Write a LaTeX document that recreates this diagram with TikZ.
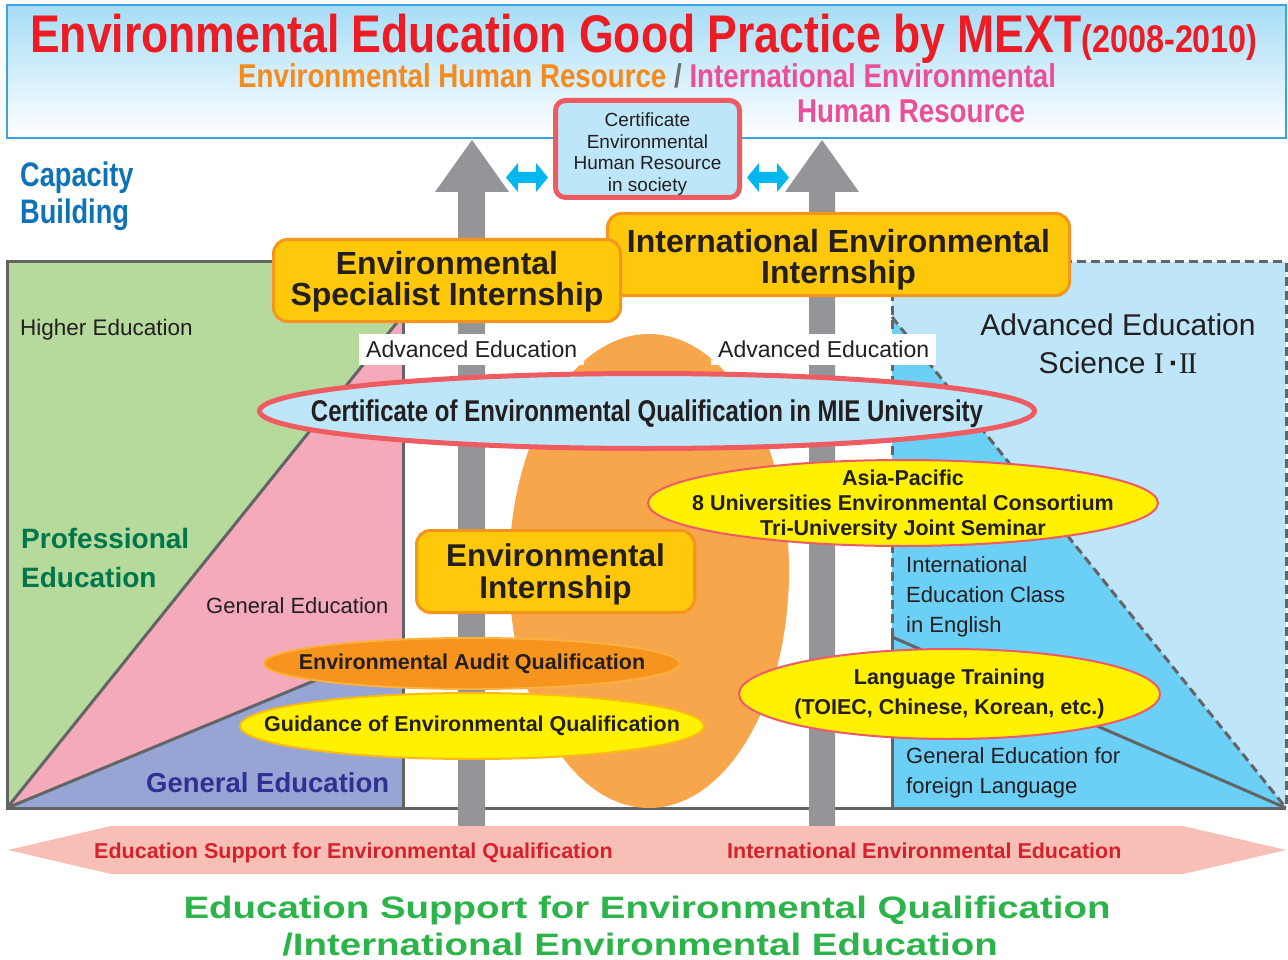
\documentclass[tikz,border=0pt]{standalone}
\usepackage{fontspec}
\setmainfont{Liberation Sans}
\newfontfamily\ttlfont[FakeStretch=0.84]{Liberation Sans}
\newfontfamily\cndfont[FakeStretch=0.8]{Liberation Sans}
\newfontfamily\widefont[FakeStretch=1.24]{Liberation Sans}
\newfontfamily\romanfont{Liberation Serif}
\usepackage{xcolor}
\usepackage{tikz}
\usetikzlibrary{shapes.geometric}

\definecolor{titlered}{HTML}{ED1C24}
\definecolor{suborange}{HTML}{F58A1F}
\definecolor{subpink}{HTML}{EC4F9A}
\definecolor{slashgray}{HTML}{6D6E71}
\definecolor{headblue}{HTML}{A6DDF6}
\definecolor{headline}{HTML}{3BA6DD}
\definecolor{certred}{HTML}{EE5C62}
\definecolor{ovalblue}{HTML}{BEE6F9}
\definecolor{cyanarrow}{HTML}{00B7F0}
\definecolor{arrowgray}{HTML}{939598}
\definecolor{capblue}{HTML}{0D72BA}
\definecolor{greenzone}{HTML}{B6D99C}
\definecolor{pinkzone}{HTML}{F4AABA}
\definecolor{purplezone}{HTML}{97A5D5}
\definecolor{lightbluezone}{HTML}{BEE5F8}
\definecolor{bluezone}{HTML}{6CCFF6}
\definecolor{framegray}{HTML}{636466}
\definecolor{orangeblob}{HTML}{F8A64B}
\definecolor{boxyellow}{HTML}{FFC80B}
\definecolor{boxorange}{HTML}{F7941D}
\definecolor{ovalyellow}{HTML}{FFF100}
\definecolor{ovalred}{HTML}{EE5A6A}
\definecolor{auditorange}{HTML}{F7941D}
\definecolor{auditedge}{HTML}{FBB040}
\definecolor{guideedge}{HTML}{FCB816}
\definecolor{profgreen}{HTML}{00774A}
\definecolor{genblue}{HTML}{2E3192}
\definecolor{inkblack}{HTML}{231F20}
\definecolor{bottompink}{HTML}{F8BFB7}
\definecolor{bottomred}{HTML}{D7212A}
\definecolor{bottomgreen}{HTML}{2CB34A}

\tikzstyle{frameline} = [draw=framegray, line width=3pt]
\tikzstyle{dashline} = [draw=framegray, line width=3pt, dash pattern=on 9pt off 5pt]
\tikzstyle{yellowbox} = [rectangle, rounded corners=14pt, draw=boxorange, line width=3pt, fill=boxyellow, inner sep=0pt]
\tikzstyle{boxtext} = [align=center, inner sep=0pt, text=inkblack, font=\bfseries\fontsize{32}{31}\selectfont]
\tikzstyle{certbox} = [rectangle, rounded corners=10pt, draw=certred, line width=5pt, fill=ovalblue, inner sep=0pt, minimum width=184pt, minimum height=97pt]
\tikzstyle{certoval} = [ellipse, draw=certred, line width=5pt, fill=ovalblue, inner sep=0pt]
\tikzstyle{yellowoval} = [ellipse, draw=ovalred, line width=2pt, fill=ovalyellow, inner sep=0pt]
\tikzstyle{ovaltext} = [align=center, inner sep=0pt, text=inkblack, font=\bfseries\fontsize{21.5}{25}\selectfont]
\tikzstyle{advlabel} = [fill=white, anchor=west, inner xsep=7pt, inner ysep=0pt, minimum height=31pt, text=inkblack, font=\fontsize{23}{23}\selectfont]
\tikzstyle{plaintext} = [anchor=base west, inner sep=0pt, text=inkblack, font=\fontsize{22}{22}\selectfont]

\begin{document}
\begin{tikzpicture}[x=1pt, y=-1pt]
\useasboundingbox (0,0) rectangle (1288,960);

% header
\shade[top color=headblue, bottom color=white] (7,5) rectangle (1286,138);
\draw[headline, line width=2pt] (7,5) rectangle (1286,138);
\node[anchor=base west, inner sep=0pt, text=titlered, font=\ttlfont\bfseries] (title) at (30,53) {{\fontsize{53}{53}\selectfont Environmental Education Good Practice by MEXT}{\fontsize{38.5}{38.5}\selectfont(2008-2010)}};
\node[anchor=base west, inner sep=0pt, font=\ttlfont\bfseries\fontsize{33}{33}\selectfont] (subtitle) at (238,88) {\textcolor{suborange}{Environmental Human Resource} \textcolor{slashgray}{/} \textcolor{subpink}{International Environmental}};
\node[anchor=base west, inner sep=0pt, text=subpink, font=\ttlfont\bfseries\fontsize{33}{33}\selectfont] (subtitle2) at (797,123) {Human Resource};

\node[anchor=base west, inner sep=0pt, text=capblue, font=\cndfont\bfseries\fontsize{34}{34}\selectfont] (capacity) at (20,187) {Capacity};
\node[anchor=base west, inner sep=0pt, text=capblue, font=\cndfont\bfseries\fontsize{34}{34}\selectfont] (building) at (20,224) {Building};

% zones
\fill[greenzone] (7,262) -- (403,262) -- (403,315) -- (7,808) -- cycle;
\fill[pinkzone] (7,808) -- (403,315) -- (403,808) -- cycle;
\fill[purplezone] (7,808) -- (403,644) -- (403,808) -- cycle;
\fill[lightbluezone] (892,262) rectangle (1286,808);
\fill[bluezone] (892,317) -- (1286,808) -- (892,808) -- cycle;
\draw[frameline] (403,262) -- (7,262) -- (7,808) -- (1286,808);
\draw[frameline] (403,262) -- (403,808);
\draw[frameline] (7,808) -- (403,315);
\draw[frameline] (7,808) -- (403,644);
\draw[dashline] (892,637) -- (892,262) -- (1286,262) -- (1286,808);
\draw[dashline] (892,317) -- (1286,808);
\draw[frameline] (892,637) -- (892,808);
\draw[frameline] (892,637) -- (1286,808);

\fill[orangeblob] (649,571) ellipse [x radius=140pt, y radius=237pt];

% upward arrows
\fill[arrowgray] (458,826) -- (458,192) -- (435,192) -- (472,140) -- (509,192) -- (485,192) -- (485,826) -- cycle;
\fill[arrowgray] (809,826) -- (809,192) -- (785,192) -- (822,140) -- (859,192) -- (835,192) -- (835,826) -- cycle;
\fill[cyanarrow] (506,177.5) -- (518,163) -- (518,172) -- (536,172) -- (536,163) -- (548,177.5) -- (536,192) -- (536,183) -- (518,183) -- (518,192) -- cycle;
\fill[cyanarrow] (747,177.5) -- (759,163) -- (759,172) -- (777,172) -- (777,163) -- (789,177.5) -- (777,192) -- (777,183) -- (759,183) -- (759,192) -- cycle;

\node[certbox] (certbox) at (647.5,149) {};
\node[align=center, inner sep=0pt, text=inkblack, font=\fontsize{19}{21.5}\selectfont, yshift=-5pt] (certboxtext) at (certbox) {Certificate\\Environmental\\Human Resource\\in society};

\node[advlabel] (advleft) at (359,349.5) {Advanced Education};
\node[advlabel] (advright) at (711,349.5) {Advanced Education};

\node[yellowbox, minimum width=462pt, minimum height=82pt] (intlintern) at (838.5,254.5) {};
\node[boxtext, yshift=-5pt] (intltext) at (intlintern) {International Environmental\\Internship};
\node[yellowbox, minimum width=347pt, minimum height=82pt] (specintern) at (447,280.5) {};
\node[boxtext, yshift=-1pt] (spectext) at (specintern) {Environmental\\Specialist Internship};

\node[certoval, minimum width=775pt, minimum height=75pt] (certoval) at (647,411) {};
\node[inner sep=0pt, text=inkblack, font=\cndfont\bfseries\fontsize{30}{30}\selectfont, yshift=-3pt] (certtext) at (certoval) {Certificate of Environmental Qualification in MIE University};

\node[yellowbox, minimum width=278pt, minimum height=82pt] (envintern) at (555.5,571.5) {};
\node[boxtext, font=\bfseries\fontsize{31.5}{32}\selectfont, yshift=-3pt] (envtext) at (envintern) {Environmental\\Internship};

\node[yellowoval, minimum width=510pt, minimum height=86pt] (asiaoval) at (903,503) {};
\node[ovaltext, yshift=-1.5pt] (asiatext) at (asiaoval) {Asia-Pacific\\8 Universities Environmental Consortium\\Tri-University Joint Seminar};

\node[ellipse, draw=auditedge, line width=2pt, fill=auditorange, inner sep=0pt, minimum width=416pt, minimum height=51pt] (auditoval) at (472,663.5) {};
\node[ovaltext] (audittext) at (auditoval) {Environmental Audit Qualification};
\node[yellowoval, draw=guideedge, minimum width=464pt, minimum height=66pt] (guideoval) at (472,726) {};
\node[ovaltext] (guidetext) at (guideoval) {Guidance of Environmental Qualification};
\node[yellowoval, minimum width=421pt, minimum height=90pt] (langoval) at (949.5,694) {};
\node[ovaltext, font=\bfseries\fontsize{21.5}{30}\selectfont] (langtext) at (langoval) {Language Training\\(TOIEC, Chinese, Korean, etc.)};

% zone texts
\node[plaintext, font=\fontsize{22.5}{22.5}\selectfont] (higher) at (20,335) {Higher Education};
\node[plaintext, text=profgreen, font=\bfseries\fontsize{28}{28}\selectfont] (prof1) at (21,548) {Professional};
\node[plaintext, text=profgreen, font=\bfseries\fontsize{28}{28}\selectfont] (prof2) at (21,587) {Education};
\node[plaintext] (genpink) at (206,613) {General Education};
\node[plaintext, text=genblue, font=\bfseries\fontsize{27.5}{27.5}\selectfont] (genblue) at (146,792) {General Education};
\node[anchor=base, inner sep=0pt, text=inkblack, font=\fontsize{30}{30}\selectfont] (adv1) at (1118,335) {Advanced Education};
\node[anchor=base, inner sep=0pt, text=inkblack, font=\fontsize{30}{30}\selectfont] (adv2) at (1118,373) {Science {\romanfont I}\,{\bfseries·}{\romanfont I\kern-1.5pt I}};
\node[plaintext] (intl1) at (906,572) {International};
\node[plaintext] (intl2) at (906,602) {Education Class};
\node[plaintext] (intl3) at (906,632) {in English};
\node[plaintext] (foreign1) at (906,763) {General Education for};
\node[plaintext] (foreign2) at (906,793) {foreign Language};

% bottom band
\fill[bottompink] (8,850) -- (111,826) -- (1183,826) -- (1286,850) -- (1183,874) -- (111,874) -- cycle;
\node[anchor=base west, inner sep=0pt, text=bottomred, font=\bfseries\fontsize{21.5}{21.5}\selectfont] (supportleft) at (94,858) {Education Support for Environmental Qualification};
\node[anchor=base west, inner sep=0pt, text=bottomred, font=\bfseries\fontsize{21.5}{21.5}\selectfont] (supportright) at (727,858) {International Environmental Education};
\node[anchor=base, inner sep=0pt, text=bottomgreen, font=\widefont\bfseries\fontsize{31}{31}\selectfont] (footer1) at (647,918) {Education Support for Environmental Qualification};
\node[anchor=base, inner sep=0pt, text=bottomgreen, font=\widefont\bfseries\fontsize{31}{31}\selectfont] (footer2) at (640,955) {/International Environmental Education};

\end{tikzpicture}
\end{document}
